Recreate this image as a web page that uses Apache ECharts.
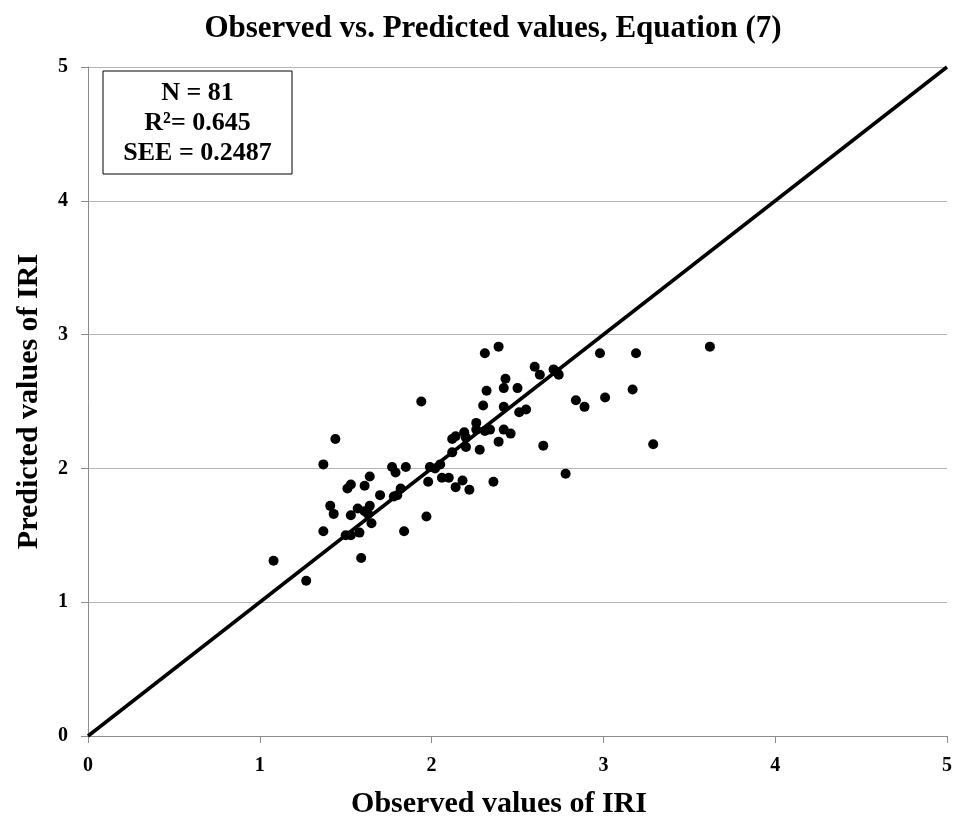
<!DOCTYPE html>
<html>
<head>
<meta charset="utf-8">
<script src="https://cdn.jsdelivr.net/npm/echarts@6/dist/echarts.min.js"></script>
<style>html,body{margin:0;padding:0;background:#fff}#c{width:954px;height:816px}</style>
</head>
<body>
<div id="c"></div>
<script>
var titleText = 'Observed vs. Predicted values, Equation (7)';
var xName = 'Observed values of IRI';
var yName = 'Predicted values of IRI';
var statLines = ['N = 81', 'R²= 0.645', 'SEE = 0.2487'];
var axisMin = 0, axisMax = 5, axisStep = 1;
var lineX = [0, 5];
var lineY = [0, 5];
var observed = [1.08,1.27,1.37,1.44,1.41,1.43,1.37,1.50,1.53,1.58,1.59,1.51,1.53,1.61,1.64,1.53,1.57,1.61,1.64,1.63,
  1.65,1.70,1.78,1.80,1.82,1.77,1.79,1.85,1.84,1.94,1.97,1.98,1.99,2.02,2.05,2.06,2.10,2.14,2.18,2.22,
  2.12,2.12,2.14,2.19,2.20,2.26,2.26,2.31,2.34,2.28,2.36,2.39,2.42,2.46,2.30,2.42,2.51,2.55,2.32,2.42,
  2.50,2.43,2.31,2.39,2.60,2.63,2.71,2.73,2.74,2.65,2.78,2.84,2.89,3.01,2.98,3.19,3.17,3.29,3.62,2.20];
var predicted = [1.31,1.16,2.03,2.22,1.72,1.66,1.53,1.50,1.50,1.52,1.33,1.85,1.88,1.87,1.94,1.65,1.70,1.68,1.72,1.66,
  1.59,1.80,1.79,1.80,1.85,2.01,1.97,2.01,1.53,2.50,1.64,1.90,2.01,2.00,2.03,1.93,1.93,1.86,1.91,1.84,
  2.12,2.22,2.24,2.27,2.16,2.34,2.29,2.28,2.29,2.14,1.90,2.20,2.29,2.26,2.47,2.46,2.42,2.44,2.58,2.60,
  2.60,2.67,2.86,2.91,2.76,2.70,2.74,2.72,2.70,2.17,1.96,2.51,2.46,2.53,2.86,2.86,2.59,2.18,2.91,2.23];

var serif = "'Liberation Serif','Times New Roman',serif";
var pts = observed.map(function(v, i){ return [v, predicted[i]]; });
var linePts = lineX.map(function(v, i){ return [v, lineY[i]]; });

var chart = echarts.init(document.getElementById('c'));
var axisCommon = {
  type: 'value', min: axisMin, max: axisMax, interval: axisStep,
  axisLine: {show: true, lineStyle: {color: '#8c8c8c', width: 1}},
  axisTick: {show: true, length: 7, lineStyle: {color: '#8c8c8c'}},
  axisLabel: {color: '#000', fontFamily: serif, fontWeight: 'bold', fontSize: 20},
  nameLocation: 'middle',
  nameTextStyle: {color: '#000', fontFamily: serif, fontWeight: 'bold', fontSize: 30}
};
chart.setOption({
  animation: false,
  backgroundColor: '#fff',
  title: {
    text: titleText, left: 488, top: 8, textAlign: 'center',
    textStyle: {color: '#000', fontFamily: serif, fontWeight: 'bold', fontSize: 31}
  },
  grid: {left: 88, right: 7, top: 67, bottom: 80, containLabel: false, outerBoundsMode: 'none'},
  xAxis: Object.assign({}, axisCommon, {
    name: xName, nameGap: 53,
    nameTextStyle: Object.assign({}, axisCommon.nameTextStyle, {padding: [0, 37, 0, 0]}),
    axisLabel: Object.assign({}, axisCommon.axisLabel, {margin: 20}),
    splitLine: {show: false}
  }),
  yAxis: Object.assign({}, axisCommon, {
    name: yName, nameGap: 44,
    axisLabel: Object.assign({}, axisCommon.axisLabel, {margin: 20}),
    splitLine: {show: true, lineStyle: {color: '#b4b4b4', width: 1}}
  }),
  series: [
    {
      type: 'line', data: linePts, symbol: 'none', silent: true,
      lineStyle: {color: '#000', width: 3.5}, z: 2
    },
    {
      type: 'scatter', data: pts, symbol: 'circle', symbolSize: 10,
      itemStyle: {color: '#000', opacity: 1}, z: 3
    }
  ],
  graphic: [
    {
      type: 'rect', x: 103, y: 71,
      shape: {x: 0, y: 0, width: 189, height: 103},
      style: {fill: '#fff', stroke: '#000', lineWidth: 1}, z: 10
    },
    {
      type: 'text', x: 197.5, y: 78,
      style: {
        text: statLines.join('\n'), x: 0, y: 0,
        fill: '#000', font: 'bold 26px ' + serif, textAlign: 'center', lineHeight: 30
      }, z: 11
    }
  ]
});
</script>
</body>
</html>
